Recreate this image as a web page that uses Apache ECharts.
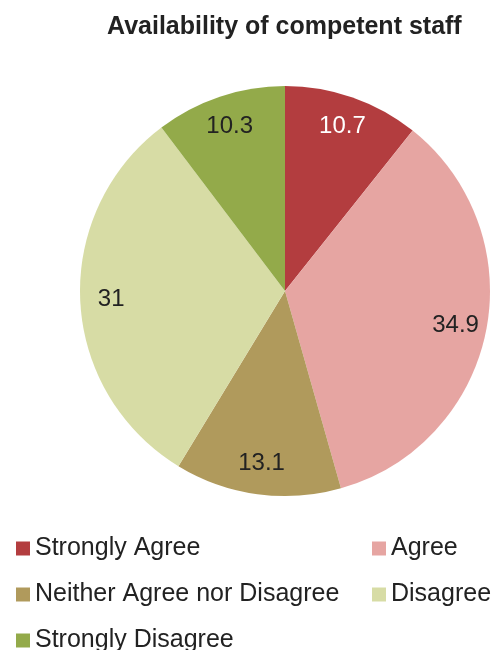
<!DOCTYPE html>
<html>
<head>
<meta charset="utf-8">
<script src="https://cdn.jsdelivr.net/npm/echarts@6/dist/echarts.min.js"></script>
<style>html,body{margin:0;padding:0;background:#fff}#chart{width:494px;height:650px}</style>
</head>
<body>
<div id="chart"></div>
<script>
// Survey responses, percent
const categories = ['Strongly Agree', 'Agree', 'Neither Agree nor Disagree', 'Disagree', 'Strongly Disagree'];
const values = [10.7, 34.9, 13.1, 31, 10.3];
const colors = ['#B33D3F', '#E6A5A2', '#B09A5C', '#D7DCA5', '#93AA4A'];
const labelColors = ['#ffffff', '#222222', '#222222', '#222222', '#222222'];

const FONT = '"Liberation Sans", Arial, sans-serif';
const center = [285, 291];
const R = 205;

const sliceData = categories.map((name, i) => ({
  name, value: values[i], itemStyle: { color: colors[i] }
}));
// transparent ring used only to place the value labels near the rim
const labelData = categories.map((name, i) => ({
  name, value: values[i],
  itemStyle: { color: 'rgba(0,0,0,0)' },
  label: { color: labelColors[i] }
}));

const chart = echarts.init(document.getElementById('chart'), null, { renderer: 'canvas' });
chart.setOption({
  animation: false,
  title: {
    text: 'Availability of competent staff',
    left: 102, top: 10,
    textStyle: { fontFamily: FONT, fontSize: 25, fontWeight: 'bold', color: '#222' }
  },
  legend: {
    data: categories,
    left: 11, top: 531, width: 700,
    orient: 'horizontal',
    icon: 'rect', itemWidth: 14, itemHeight: 14, itemGap: 21,
    selectedMode: false,
    textStyle: { fontFamily: FONT, fontSize: 25, color: '#222', width: 316, lineHeight: 24, padding: [0, 0, 0, 0] }
  },
  series: [
    {
      type: 'pie', center, radius: [0, R], startAngle: 90, clockwise: true,
      label: { show: false }, labelLine: { show: false },
      itemStyle: { borderWidth: 0 },
      emphasis: { disabled: true },
      data: sliceData
    },
    {
      type: 'pie', center, radius: [138, R - 1], startAngle: 90, clockwise: true,
      silent: true, legendHoverLink: false,
      label: { show: true, position: 'inside', formatter: '{c}', fontFamily: FONT, fontSize: 24 },
      labelLine: { show: false },
      emphasis: { disabled: true },
      data: labelData
    }
  ]
});
</script>
</body>
</html>
